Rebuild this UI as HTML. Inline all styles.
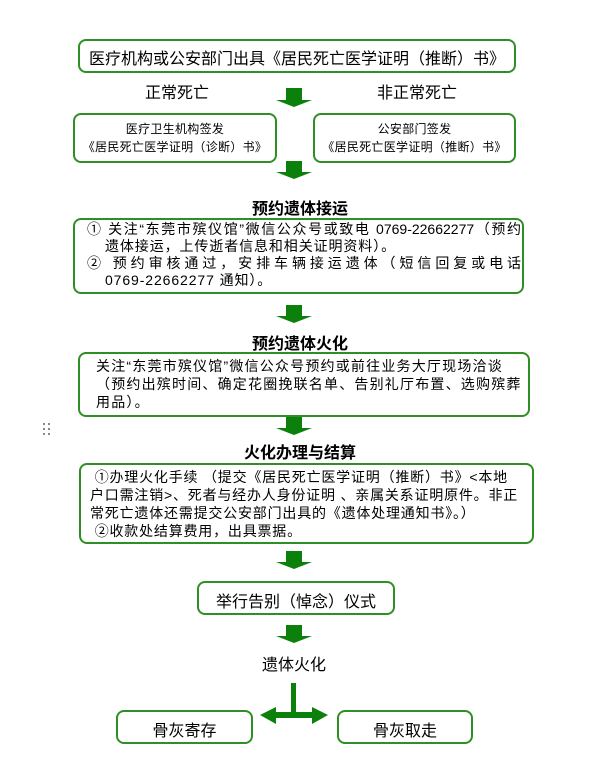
<!DOCTYPE html>
<html><head><meta charset="utf-8"><style>
body{margin:0;width:601px;height:769px;background:#fff;position:relative;font-family:"Liberation Sans","Noto Sans CJK SC",sans-serif;color:#000;overflow:hidden}
.b{position:absolute;border:2px solid #2f8f24;border-radius:8px;box-sizing:border-box;background:#fff}
.t{position:absolute;white-space:nowrap}
.c{text-align:center}
.j{text-align:justify;text-align-last:justify;white-space:nowrap}
svg{position:absolute;left:0;top:0}
</style></head><body>
<svg width="601" height="769">
<g fill="#0b800b">
<polygon points="286,88 302,88 302,100 312,100 294,107 276,100 286,100"/>
<polygon points="286,161 302,161 302,172 312,172 294,179 276,172 286,172"/>
<polygon points="286,305 302,305 302,316 312,316 294,323 276,316 286,316"/>
<polygon points="286,417 302,417 302,428 312,428 294,435 276,428 286,428"/>
<polygon points="286,551 302,551 302,562 312,562 294,569 276,562 286,562"/>
<polygon points="286,625 302,625 302,636 312,636 294,643 276,636 286,636"/>
<rect x="291" y="683" width="5" height="30"/>
<polygon points="260,715 276,707 276,712 312,712 312,707 328,715 312,724 312,718 276,718 276,724"/>
</g>
<g fill="#888"><rect x="43" y="423" width="2" height="2"/><rect x="48" y="423" width="2" height="2"/><rect x="43" y="428" width="2" height="2"/><rect x="48" y="428" width="2" height="2"/><rect x="43" y="433" width="2" height="2"/><rect x="48" y="433" width="2" height="2"/></g>
</svg>
<div class="b" style="left:78px;top:39px;width:438px;height:34px"></div>
<div class="t" style="left:78px;top:45px;width:438px;font-size:16px;text-align:center">医疗机构或公安部门出具《居民死亡医学证明（推断）书》</div>
<div class="t" style="left:145px;top:79px;font-size:16px">正常死亡</div>
<div class="t" style="left:377px;top:79px;font-size:16px">非正常死亡</div>
<div class="b" style="left:73px;top:113px;width:204px;height:50px"></div>
<div class="t c" style="left:73px;top:120px;width:204px;font-size:12px;line-height:18px;letter-spacing:0.3px">医疗卫生机构签发<br>《居民死亡医学证明（诊断）书》</div>
<div class="b" style="left:313px;top:113px;width:203px;height:50px"></div>
<div class="t c" style="left:313px;top:120px;width:203px;font-size:12px;line-height:18px;letter-spacing:0.3px">公安部门签发<br>《居民死亡医学证明（推断）书》</div>
<div class="t c" style="left:200px;top:195px;width:200px;font-size:16px;font-weight:bold">预约遗体接运</div>
<div class="b" style="left:73px;top:218px;width:451px;height:76px"></div>
<div class="t" style="left:87px;top:221px;width:434px;font-size:14px;line-height:17px">
<div class="j">① 关注“东莞市殡仪馆”微信公众号或致电 0769-22662277（预约</div>
<div style="padding-left:18px;letter-spacing:0.9px">遗体接运，上传逝者信息和相关证明资料）。</div>
<div class="j">② 预约审核通过，安排车辆接运遗体（短信回复或电话</div>
<div style="padding-left:18px;letter-spacing:0.9px">0769-22662277 通知）。</div>
</div>
<div class="t c" style="left:200px;top:330px;width:200px;font-size:16px;font-weight:bold">预约遗体火化</div>
<div class="b" style="left:78px;top:352px;width:452px;height:65px"></div>
<div class="t" style="left:96px;top:357px;font-size:14px;line-height:18px;letter-spacing:1.2px">关注“东莞市殡仪馆”微信公众号预约或前往业务大厅现场洽谈<br>（预约出殡时间、确定花圈挽联名单、告别礼厅布置、选购殡葬<br>用品）。</div>
<div class="t c" style="left:200px;top:439px;width:200px;font-size:16px;font-weight:bold">火化办理与结算</div>
<div class="b" style="left:79px;top:463px;width:455px;height:81px"></div>
<div class="t" style="left:90px;top:468px;font-size:14px;line-height:18px;letter-spacing:0.8px">&nbsp;①办理火化手续 （提交《居民死亡医学证明（推断）书》&lt;本地<br>户口需注销&gt;、死者与经办人身份证明 、亲属关系证明原件。非正<br>常死亡遗体还需提交公安部门出具的《遗体处理通知书》。）<br>&nbsp;②收款处结算费用，出具票据。</div>
<div class="b" style="left:197px;top:581px;width:198px;height:34px"></div>
<div class="t c" style="left:197px;top:588px;width:198px;font-size:16px">举行告别（悼念）仪式</div>
<div class="t c" style="left:244px;top:651px;width:100px;font-size:16px">遗体火化</div>
<div class="b" style="left:116px;top:710px;width:137px;height:34px"></div>
<div class="t c" style="left:116px;top:717px;width:137px;font-size:16px">骨灰寄存</div>
<div class="b" style="left:337px;top:710px;width:136px;height:34px"></div>
<div class="t c" style="left:337px;top:717px;width:136px;font-size:16px">骨灰取走</div>
</body></html>
